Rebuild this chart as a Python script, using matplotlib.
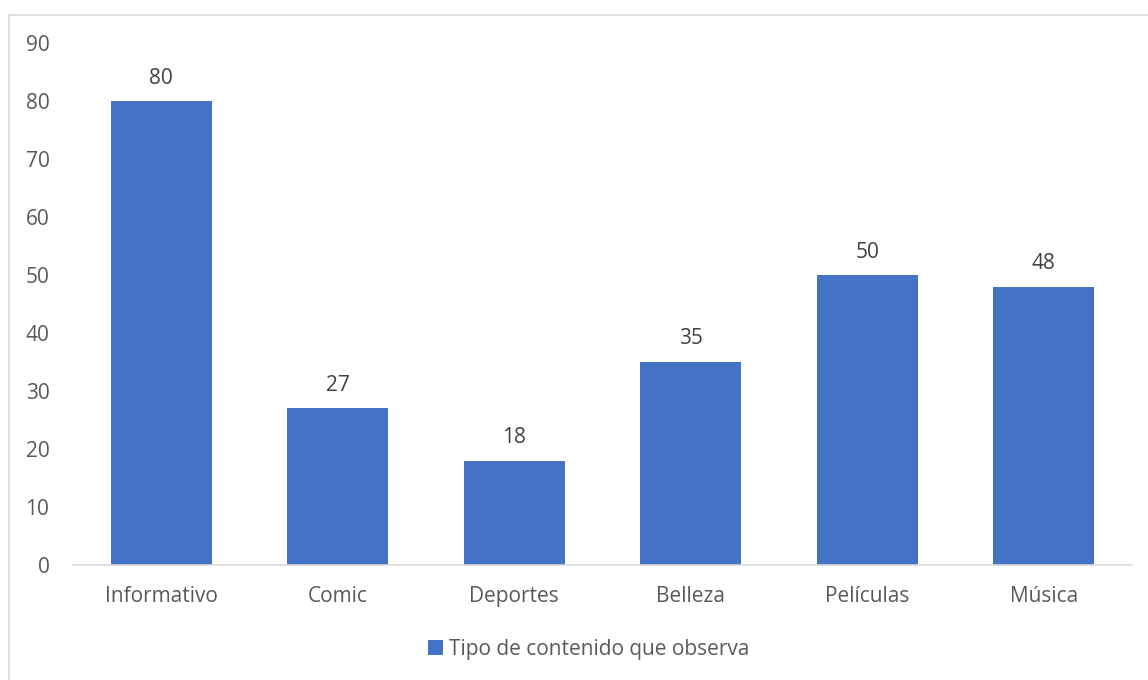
import matplotlib
matplotlib.use("Agg")
import matplotlib.pyplot as plt
from matplotlib.patches import Patch
from matplotlib.lines import Line2D

categories = ["Informativo", "Comic", "Deportes", "Belleza", "Películas", "Música"]
values = [80, 27, 18, 35, 50, 48]
yticks = [0, 10, 20, 30, 40, 50, 60, 70, 80, 90]
series_name = "Tipo de contenido que observa"

plt.rcParams['font.family'] = ['Open Sans', 'DejaVu Sans']

fig = plt.figure(figsize=(11.48, 6.8), dpi=100)
ax = fig.add_axes([73/1148, 1-565/680, (1132-73)/1148, (565-43)/680])

bar_color = "#4472C4"
x = list(range(len(categories)))
bars = ax.bar(x, values, width=0.57, color=bar_color, zorder=2)

for xi, v in zip(x, values):
    ax.annotate(str(v), (xi, v), xytext=(0, 9), textcoords="offset points",
                ha="center", va="bottom", fontsize=15, color="#404040")

ax.set_xlim(-0.5, len(categories) - 0.5)
ax.set_ylim(0, 90)
ax.set_yticks(yticks)
ax.set_xticks(x)
ax.set_xticklabels(categories)
ax.tick_params(axis="y", length=0, pad=17, labelsize=15, labelcolor="#595959")
ax.tick_params(axis="x", length=0, pad=15, labelsize=15, labelcolor="#595959")
for s in ["top", "right", "left"]:
    ax.spines[s].set_visible(False)
ax.spines["bottom"].set_color("#D9D9D9")
ax.spines["bottom"].set_linewidth(1.2)

# outer chart border (top and left visible)
fig.add_artist(Line2D([9/1148, 1.0], [1-15/680, 1-15/680], transform=fig.transFigure,
                      color="#D9D9D9", linewidth=1.2))
fig.add_artist(Line2D([9/1148, 9/1148], [0, 1-15/680], transform=fig.transFigure,
                      color="#D9D9D9", linewidth=1.2))

handle = Patch(facecolor=bar_color, edgecolor="none")
fig.legend([handle], [series_name], loc="center", bbox_to_anchor=(589/1148, 1-649/680),
           frameon=False, fontsize=15, labelcolor="#595959",
           handlelength=0.7, handleheight=0.7, handletextpad=0.3)

fig.savefig("out.png", dpi=100, facecolor="white")
